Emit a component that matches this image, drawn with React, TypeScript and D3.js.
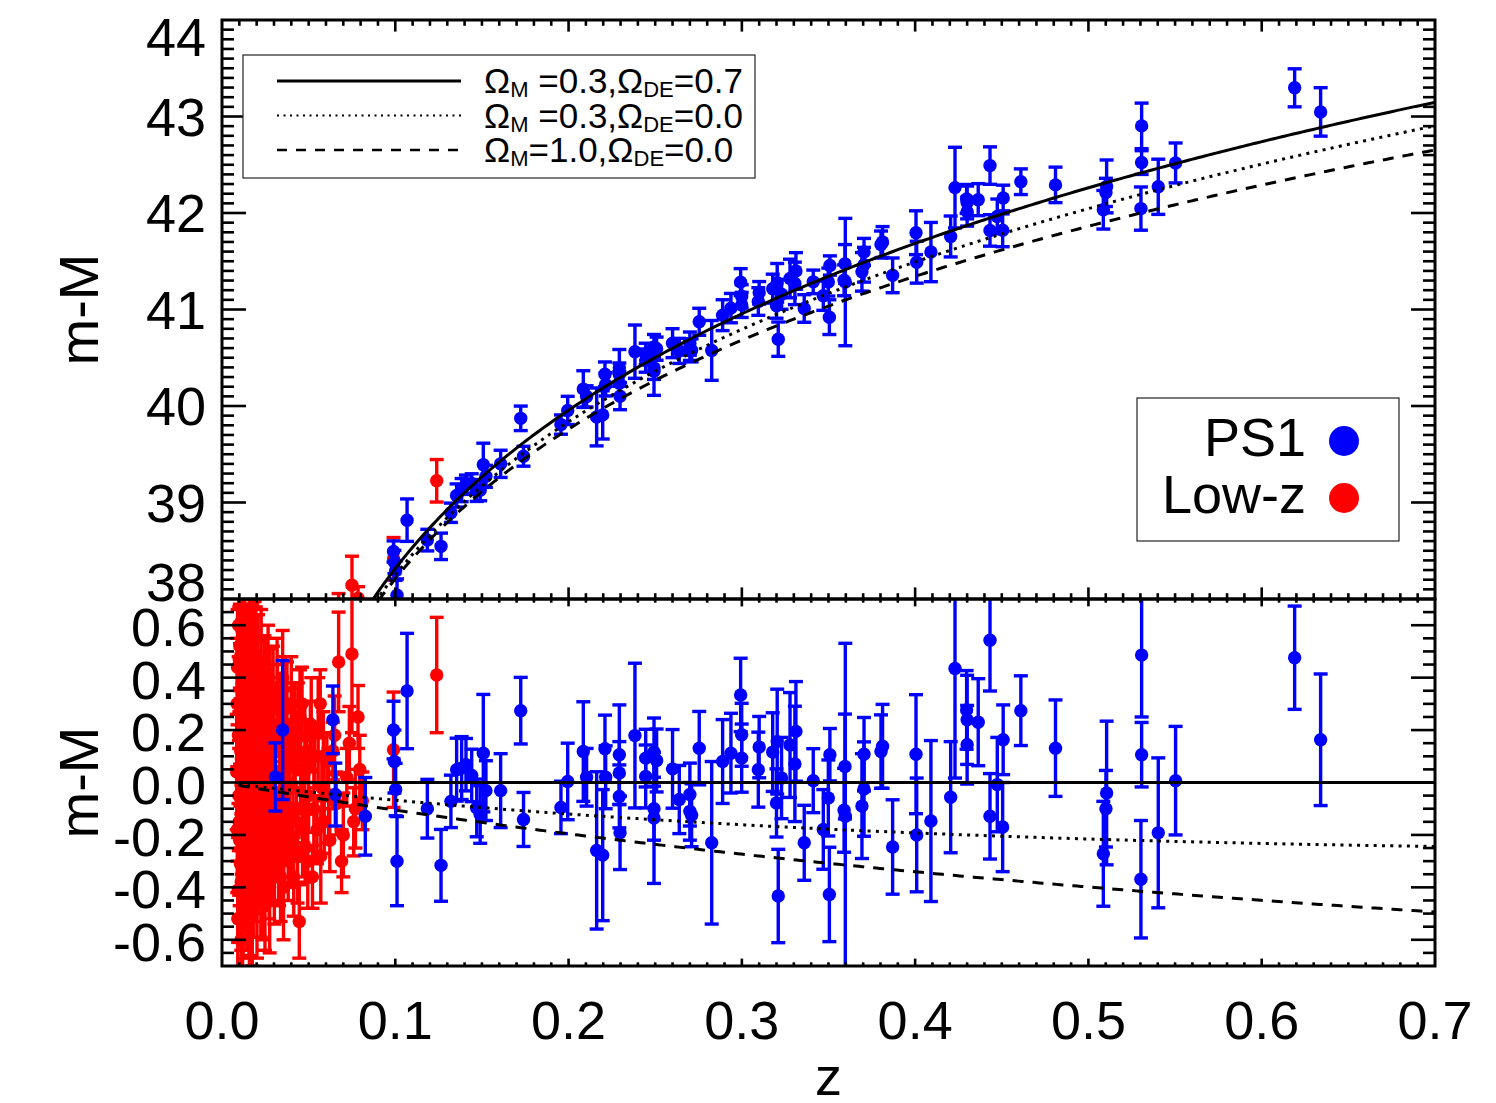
import React from 'react';
import * as d3 from 'd3';

// ---------- DATA ----------
// Low-z sample: [z, residual (m-M minus LCDM), error]
const lowZ: [number, number, number][] = [
  [0.0085, 0.04, 0.22], [0.0088, -0.18, 0.24], [0.0090, 0.44, 0.22], [0.0093, -0.41, 0.20],
  [0.0095, 0.18, 0.26], [0.0097, -0.05, 0.21], [0.0100, 0.47, 0.20], [0.0102, -0.22, 0.25],
  [0.0104, 0.30, 0.23], [0.0106, -0.31, 0.22], [0.0108, 0.12, 0.20], [0.0110, -0.60, 0.19],
  [0.0112, 0.24, 0.25], [0.0114, -0.13, 0.22], [0.0116, 0.38, 0.24], [0.0118, -0.17, 0.26],
  [0.0120, 0.02, 0.21], [0.0122, -0.45, 0.22], [0.0124, 0.55, 0.18], [0.0126, -0.26, 0.23],
  [0.0128, 0.20, 0.22], [0.0130, -0.08, 0.24], [0.0132, 0.45, 0.20], [0.0134, -0.35, 0.21],
  [0.0136, 0.10, 0.23], [0.0138, -0.20, 0.20], [0.0140, 0.32, 0.22], [0.0143, -0.44, 0.20],
  [0.0146, 0.48, 0.19], [0.0149, 0.05, 0.22], [0.0152, -0.27, 0.21], [0.0155, 0.26, 0.20],
  [0.0158, -0.47, 0.24], [0.0161, 0.15, 0.21], [0.0164, -0.10, 0.23], [0.0167, 0.40, 0.20],
  [0.0170, -0.33, 0.19], [0.0173, 0.49, 0.19], [0.0176, -0.15, 0.22], [0.0179, 0.07, 0.20],
  [0.0182, -0.38, 0.21], [0.0185, 0.28, 0.19], [0.0188, 0.48, 0.21], [0.0191, -0.22, 0.20],
  [0.0194, 0.13, 0.19], [0.0197, -0.05, 0.22], [0.0200, 0.36, 0.18], [0.0204, -0.30, 0.20],
  [0.0208, 0.45, 0.19], [0.0212, 0.00, 0.21], [0.0216, -0.19, 0.18], [0.0220, 0.22, 0.20],
  [0.0224, -0.40, 0.19], [0.0228, 0.30, 0.17], [0.0232, -0.12, 0.20], [0.0236, 0.08, 0.18],
  [0.0240, -0.28, 0.19], [0.0244, 0.38, 0.18], [0.0248, -0.47, 0.17], [0.0252, 0.18, 0.19],
  [0.0256, -0.08, 0.18], [0.0260, 0.26, 0.17], [0.0264, -0.22, 0.18], [0.0268, 0.05, 0.19],
  [0.0272, -0.35, 0.17], [0.0277, 0.33, 0.18], [0.0282, -0.15, 0.16], [0.0287, 0.12, 0.18],
  [0.0292, -0.28, 0.17], [0.0297, 0.22, 0.16], [0.0302, -0.36, 0.18], [0.0308, 0.02, 0.17],
  [0.0314, -0.20, 0.16], [0.0320, 0.28, 0.17], [0.0326, -0.30, 0.16], [0.0332, 0.15, 0.17],
  [0.0338, -0.36, 0.17], [0.0344, -0.05, 0.15], [0.0350, 0.40, 0.18], [0.0356, -0.22, 0.16],
  [0.0362, 0.20, 0.15], [0.0368, -0.12, 0.16], [0.0375, 0.30, 0.16], [0.0382, -0.30, 0.15],
  [0.0390, 0.06, 0.14], [0.0398, -0.25, 0.15], [0.0406, 0.22, 0.14], [0.0414, -0.36, 0.15],
  [0.0422, 0.10, 0.14], [0.0430, -0.15, 0.15], [0.0438, 0.25, 0.13], [0.0446, -0.53, 0.14],
  [0.0454, 0.05, 0.13], [0.0462, 0.30, 0.14], [0.0470, -0.10, 0.13], [0.0480, -0.25, 0.13],
  [0.0490, 0.12, 0.12], [0.0500, -0.05, 0.14], [0.0510, 0.18, 0.13], [0.0522, -0.36, 0.12],
  [0.0535, 0.10, 0.12], [0.0548, -0.18, 0.13], [0.0567, 0.30, 0.13], [0.0576, -0.02, 0.12],
  [0.0590, -0.15, 0.12], [0.0605, 0.08, 0.11], [0.0622, -0.22, 0.12], [0.0640, 0.12, 0.11],
  [0.0660, -0.08, 0.12], [0.0673, 0.46, 0.19], [0.0690, -0.30, 0.12], [0.0720, 0.02, 0.11],
  [0.0750, 0.49, 0.30], [0.0760, -0.15, 0.13], [0.0785, 0.25, 0.12], [0.0810, -0.07, 0.11],
  [0.0990, 0.125, 0.22], [0.1239, 0.41, 0.22],
  [0.0087, 0.30, 0.25], [0.0091, -0.52, 0.22], [0.0096, 0.60, 0.12], [0.0099, -0.15, 0.28],
  [0.0103, 0.52, 0.16], [0.0107, 0.05, 0.30], [0.0111, -0.38, 0.26], [0.0115, 0.58, 0.14],
  [0.0119, -0.55, 0.18], [0.0123, 0.25, 0.30], [0.0127, -0.02, 0.28], [0.0131, 0.60, 0.10],
  [0.0135, -0.25, 0.30], [0.0139, 0.42, 0.22], [0.0144, -0.10, 0.30], [0.0150, 0.35, 0.28],
  [0.0156, -0.40, 0.26], [0.0162, 0.55, 0.15], [0.0168, 0.00, 0.30], [0.0175, -0.50, 0.20],
  [0.0181, 0.20, 0.30], [0.0187, -0.25, 0.28], [0.0195, 0.42, 0.25], [0.0202, -0.45, 0.22],
  [0.0210, 0.15, 0.28], [0.0218, -0.05, 0.27], [0.0226, 0.46, 0.20], [0.0234, -0.35, 0.25],
  [0.0242, 0.10, 0.28], [0.0250, 0.30, 0.25], [0.0258, -0.20, 0.26], [0.0266, 0.40, 0.20],
  [0.0275, -0.45, 0.20], [0.0285, 0.05, 0.25], [0.0295, 0.30, 0.22], [0.0305, -0.10, 0.25],
  [0.0318, 0.35, 0.20], [0.0330, -0.25, 0.22], [0.0342, 0.18, 0.22], [0.0355, -0.40, 0.20],
  [0.0366, 0.28, 0.20], [0.0378, 0.00, 0.22], [0.0388, -0.20, 0.20], [0.0400, 0.30, 0.18],
  [0.0410, -0.10, 0.20], [0.0420, 0.18, 0.20], [0.0436, -0.28, 0.18], [0.0450, 0.25, 0.18],
  [0.0465, -0.18, 0.18], [0.0478, 0.10, 0.20], [0.0495, -0.30, 0.18], [0.0515, 0.22, 0.18],
  [0.0530, -0.10, 0.20], [0.0555, 0.20, 0.20], [0.0570, -0.28, 0.18], [0.0585, 0.10, 0.17],
  [0.0615, -0.05, 0.18], [0.0650, 0.18, 0.15], [0.0700, -0.20, 0.16], [0.0735, 0.15, 0.14],
  [0.0770, -0.10, 0.15], [0.0795, 0.05, 0.13],
];

// PS1 sample: [z, residual, error]
const ps1: [number, number, number][] = [
  [0.0308, 0.021, 0.13], [0.035, 0.20, 0.265], [0.064, 0.239, 0.129], [0.0654, -0.046, 0.12],
  [0.0827, -0.129, 0.148], [0.099, 0.20, 0.11], [0.0995, 0.08, 0.12], [0.1002, -0.027, 0.10],
  [0.1010, -0.30, 0.17], [0.1068, 0.349, 0.22], [0.1185, -0.10, 0.112], [0.1264, -0.316, 0.137],
  [0.1321, -0.072, 0.10], [0.1354, 0.049, 0.12], [0.1383, 0.055, 0.12], [0.1408, 0.068, 0.10],
  [0.1441, 0.027, 0.10], [0.147, -0.097, 0.11], [0.149, -0.122, 0.11], [0.1508, 0.112, 0.224],
  [0.1523, -0.031, 0.114], [0.1608, -0.031, 0.141], [0.1724, 0.274, 0.127], [0.174, -0.141, 0.103],
  [0.1956, -0.095, 0.10], [0.1995, 0.004, 0.146], [0.2085, 0.118, 0.19], [0.2104, 0.02, 0.11],
  [0.2162, -0.259, 0.30], [0.2197, -0.277, 0.25], [0.221, 0.129, 0.128], [0.2214, 0.02, 0.12],
  [0.2293, 0.106, 0.19], [0.2293, 0.036, 0.12], [0.2293, -0.053, 0.12], [0.2297, -0.192, 0.14],
  [0.2383, 0.179, 0.276], [0.2445, 0.093, 0.11], [0.2445, 0.023, 0.12], [0.2493, 0.116, 0.13],
  [0.2508, 0.084, 0.12], [0.2493, -0.10, 0.12], [0.2493, -0.135, 0.25], [0.26, 0.052, 0.15],
  [0.2639, -0.065, 0.13], [0.27, -0.046, 0.12], [0.27, -0.11, 0.11], [0.271, -0.125, 0.12],
  [0.2754, 0.131, 0.14], [0.2826, -0.23, 0.31], [0.2889, 0.08, 0.16], [0.2937, 0.112, 0.152],
  [0.2993, 0.334, 0.14], [0.2999, 0.182, 0.12], [0.2999, 0.093, 0.13], [0.310, 0.135, 0.117],
  [0.3095, 0.049, 0.143], [0.3178, 0.116, 0.15], [0.3204, 0.156, 0.20], [0.320, -0.078, 0.13],
  [0.3229, 0.017, 0.155], [0.3210, -0.433, 0.178], [0.3278, 0.143, 0.20], [0.3312, 0.195, 0.19],
  [0.3306, 0.071, 0.22], [0.336, -0.23, 0.143], [0.3412, 0.007, 0.122], [0.347, -0.179, 0.152],
  [0.3508, 0.106, 0.10], [0.3499, -0.059, 0.145], [0.3505, -0.427, 0.18], [0.3595, 0.061, 0.20],
  [0.359, -0.106, 0.16], [0.3597, -0.129, 0.66], [0.3705, 0.108, 0.14], [0.3705, -0.025, 0.18],
  [0.3693, -0.09, 0.20], [0.3812, 0.138, 0.16], [0.3803, 0.118, 0.14], [0.387, -0.246, 0.18],
  [0.4005, 0.108, 0.227], [0.4009, -0.20, 0.217], [0.4091, -0.147, 0.307], [0.4205, -0.056, 0.212],
  [0.423, 0.435, 0.418], [0.4297, 0.277, 0.15], [0.43, 0.239, 0.17], [0.43, 0.144, 0.15],
  [0.4364, 0.23, 0.166], [0.4432, 0.543, 0.194], [0.4432, -0.129, 0.163], [0.4474, -0.008, 0.18],
  [0.4508, 0.163, 0.133], [0.4505, -0.17, 0.17], [0.461, 0.274, 0.133], [0.481, 0.131, 0.184],
  [0.5105, -0.04, 0.274], [0.5101, -0.10, 0.146], [0.5086, -0.272, 0.20], [0.5307, 0.486, 0.236],
  [0.5307, 0.106, 0.123], [0.5303, -0.369, 0.224], [0.5403, -0.192, 0.286], [0.5503, 0.007, 0.207],
  [0.619, 0.476, 0.197], [0.634, 0.163, 0.251],
];

// cosmological models: [Omega_M, Omega_DE]
const models: [number, number][] = [[0.3, 0.7], [0.3, 0.0], [1.0, 0.0]];
const legendRows = [
  { om: '0.3', ode: '0.7', gap: ' ' },
  { om: '0.3', ode: '0.0', gap: ' ' },
  { om: '1.0', ode: '0.0', gap: '' },
];
const H0 = 70;
const xTickLabels = [0, 0.1, 0.2, 0.3, 0.4, 0.5, 0.6, 0.7];
const topYTicks = [38, 39, 40, 41, 42, 43, 44];
const botYTicks = [-0.6, -0.4, -0.2, 0, 0.2, 0.4, 0.6];
const seriesNames = ['PS1', 'Low-z'];

// ---------- COSMOLOGY ----------
const C_KMS = 299792.458;
function distMod(z: number, om: number, ode: number): number {
  const ok = 1 - om - ode;
  const E = (u: number) => Math.sqrt(om * (1 + u) ** 3 + ok * (1 + u) ** 2 + ode);
  const n = 200;
  const h = z / n;
  let s = 1 / E(0) + 1 / E(z);
  for (let i = 1; i < n; i++) s += (i % 2 ? 4 : 2) / E(i * h);
  const chi = (s * h) / 3;
  let dm = chi;
  if (ok > 1e-8) dm = Math.sinh(Math.sqrt(ok) * chi) / Math.sqrt(ok);
  else if (ok < -1e-8) dm = Math.sin(Math.sqrt(-ok) * chi) / Math.sqrt(-ok);
  const dl = (1 + z) * (C_KMS / H0) * dm;
  return 5 * Math.log10(dl) + 25;
}
const refMu = (z: number) => distMod(z, models[0][0], models[0][1]);

// ---------- LAYOUT ----------
const W = 1496, H = 1103;
const L = 222, R = 1435, T = 20, MID = 599, B = 966;
const FONT = "'Liberation Sans', Arial, Helvetica, sans-serif";
const BLUE = '#0000ff', RED = '#ff0000';

const xs = d3.scaleLinear().domain([0, 0.7]).range([L, R]);
const yTop = d3.scaleLinear().domain([38, 44]).range([MID, T]);
const yBot = d3.scaleLinear().domain([-0.7, 0.7]).range([B, MID]);

const lineStyles = [
  { dash: undefined as string | undefined, w: 3 },
  { dash: '3 5.3', w: 3 },
  { dash: '11 9', w: 3 },
];
const legendStyles = [
  { dash: undefined as string | undefined, w: 3 },
  { dash: '2 4.5', w: 2 },
  { dash: '10 9', w: 2.6 },
];

function ErrPt({ cx, cy, lo, hi, color }: { cx: number; cy: number; lo: number; hi: number; color: string }) {
  const cw = 7;
  return (
    <g stroke={color} strokeWidth={3.4} fill={color}>
      <line x1={cx} x2={cx} y1={lo} y2={hi} />
      <line x1={cx - cw} x2={cx + cw} y1={lo} y2={lo} />
      <line x1={cx - cw} x2={cx + cw} y1={hi} y2={hi} />
      <circle cx={cx} cy={cy} r={6.7} stroke="none" />
    </g>
  );
}

export default function App() {
  const zGrid = d3.range(0.0096, 0.7006, 0.002);
  const line = d3.line<[number, number]>();
  const topCurves = models.map(([om, ode]) =>
    line(zGrid.map((z) => [xs(z), yTop(distMod(z, om, ode))] as [number, number]))
  );
  const botCurves = models.map(([om, ode]) =>
    line(zGrid.map((z) => [xs(z), yBot(distMod(z, om, ode) - refMu(z))] as [number, number]))
  );

  const topPts = (arr: [number, number, number][], color: string) =>
    arr.map(([z, r, e], i) => {
      const mu = refMu(z) + r;
      return <ErrPt key={i} cx={xs(z)} cy={yTop(mu)} lo={yTop(mu - e)} hi={yTop(mu + e)} color={color} />;
    });
  const botPts = (arr: [number, number, number][], color: string) =>
    arr.map(([z, r, e], i) => (
      <ErrPt key={i} cx={xs(z)} cy={yBot(r)} lo={yBot(r - e)} hi={yBot(r + e)} color={color} />
    ));

  // ticks
  const ticks: JSX.Element[] = [];
  let k = 0;
  const tk = (x1: number, y1: number, x2: number, y2: number, w = 2.6) =>
    ticks.push(<line key={k++} x1={x1} y1={y1} x2={x2} y2={y2} stroke="#000" strokeWidth={w} />);

  for (let i = 1; i < 70; i++) {
    const x = xs(i / 100);
    const major = i % 10 === 0;
    const lt = major ? 11.6 : 5.8;
    const lb = major ? 7.4 : 3.7;
    tk(x, T, x, T + lt);
    tk(x, MID, x, MID - lt);
    tk(x, MID, x, MID + lb);
    tk(x, B, x, B - lb);
  }
  for (let i = 381; i < 440; i++) {
    const y = yTop(i / 10);
    const len = i % 10 === 0 ? 24 : 12;
    tk(L, y, L + len, y);
    tk(R, y, R - len, y);
  }
  for (let i = -13; i <= 13; i++) {
    const y = yBot(i * 0.05);
    const len = i % 4 === 0 ? 24 : 12;
    tk(L, y, L + len, y);
    tk(R, y, R - len, y);
  }

  const clampTop = (y: number) => Math.max(T + 17, Math.min(MID - 17, y));

  return (
    <svg
      width={W}
      height={H}
      style={{ position: 'absolute', left: 0, top: 0, background: '#fff' }}
      fontFamily={FONT}
    >
      <defs>
        <clipPath id="clipTop">
          <rect x={L} y={T} width={R - L} height={MID - T} />
        </clipPath>
        <clipPath id="clipBot">
          <rect x={L} y={MID} width={R - L} height={B - MID} />
        </clipPath>
      </defs>
      <rect x={0} y={0} width={W} height={H} fill="#fff" />

      <g clipPath="url(#clipTop)">
        {topPts(lowZ, RED)}
        {topPts(ps1, BLUE)}
        {topCurves.map((d, i) => (
          <path key={i} d={d || ''} fill="none" stroke="#000" strokeWidth={lineStyles[i].w}
            strokeDasharray={lineStyles[i].dash} />
        ))}
      </g>

      <g clipPath="url(#clipBot)">
        {botPts(lowZ, RED)}
        {botPts(ps1, BLUE)}
        {botCurves.map((d, i) => (
          <path key={i} d={d || ''} fill="none" stroke="#000" strokeWidth={lineStyles[i].w}
            strokeDasharray={lineStyles[i].dash} />
        ))}
      </g>

      {ticks}
      <rect x={L} y={T} width={R - L} height={MID - T} fill="none" stroke="#000" strokeWidth={3} />
      <rect x={L} y={MID} width={R - L} height={B - MID} fill="none" stroke="#000" strokeWidth={3} />

      <g fontSize={54} fill="#000">
        {topYTicks.map((v) => (
          <text key={'ty' + v} x={206} y={clampTop(yTop(v)) + 19} textAnchor="end">{String(v)}</text>
        ))}
        {botYTicks.map((v) => (
          <text key={'by' + v} x={206} y={yBot(v) + 21} textAnchor="end">
            {(Math.abs(v) < 1e-9 ? 0 : v).toFixed(1)}
          </text>
        ))}
        {xTickLabels.map((v) => (
          <text key={'x' + v} x={xs(v)} y={1039} textAnchor="middle">{v.toFixed(1)}</text>
        ))}
        <text x={(L + R) / 2} y={1095} textAnchor="middle">z</text>
      </g>
      <g fontSize={56} fill="#000">
        <text transform={`translate(98, ${(T + MID) / 2}) rotate(-90)`} textAnchor="middle">m-M</text>
        <text transform={`translate(98, ${yBot(0)}) rotate(-90)`} textAnchor="middle">m-M</text>
      </g>

      <rect x={243} y={55} width={512} height={123} fill="#fff" stroke="#333" strokeWidth={1.3} />
      {legendRows.map((row, i) => {
        const y = 81 + i * 34.5;
        return (
          <g key={'lg' + i}>
            <line x1={277} x2={461} y1={y} y2={y} stroke="#000" strokeWidth={legendStyles[i].w}
              strokeDasharray={legendStyles[i].dash} />
            <text x={484} y={y + 12} fontSize={35} fill="#000">
              <tspan>Ω</tspan>
              <tspan fontSize={22} dy={4}>M</tspan>
              <tspan dy={-4}>{row.gap}={row.om},Ω</tspan>
              <tspan fontSize={22} dy={4}>DE</tspan>
              <tspan dy={-4}>={row.ode}</tspan>
            </text>
          </g>
        );
      })}

      <rect x={1137} y={398} width={262} height={143} fill="#fff" stroke="#333" strokeWidth={1.3} />
      <text x={1306} y={456} fontSize={54} textAnchor="end" fill="#000">{seriesNames[0]}</text>
      <circle cx={1344} cy={441} r={15} fill={BLUE} />
      <text x={1306} y={513} fontSize={54} textAnchor="end" fill="#000">{seriesNames[1]}</text>
      <circle cx={1344} cy={498} r={15} fill={RED} />
    </svg>
  );
}
